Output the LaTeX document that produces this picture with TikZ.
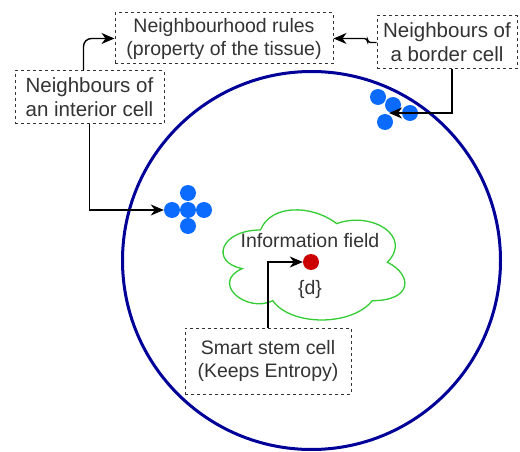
\documentclass[tikz,border=0pt]{standalone}
\usepackage{fontspec}
\setmainfont{Liberation Sans}
\usepackage{xcolor}
\usetikzlibrary{arrows.meta,positioning}
\definecolor{ink}{HTML}{333333}
\definecolor{rim}{HTML}{000099}
\definecolor{cellblue}{HTML}{0B6BFF}
\definecolor{stemred}{HTML}{CC0000}
\definecolor{fieldgreen}{HTML}{33CC33}

\begin{document}
\begin{tikzpicture}[x=1pt,y=-1pt,
  box/.style={draw=ink,dashed,line width=1pt,fill=white,inner sep=2pt,
              align=center,text=ink,font=\fontsize{19.5}{23}\selectfont},
  arr/.style={-{Stealth[length=13pt,width=11pt,inset=4pt]},draw=black,line width=1.4pt},
  cell/.style={circle,fill=cellblue,minimum size=16pt,inner sep=0pt},
  lbl/.style={text=ink,font=\fontsize{19.5}{23}\selectfont}
]
\useasboundingbox (0,0) rectangle (520,452);
% tissue
\draw[rim,line width=3pt] (311.5,260.5) circle[radius=189];
% information field
\draw[fieldgreen,line width=1.3pt] (260.5,230.0)
  .. controls (220.0,230.0) and (209.8,262.2) .. (242.3,268.6)
  .. controls (209.8,282.7) and (246.3,313.6) .. (272.8,300.7)
  .. controls (291.0,326.4) and (351.9,326.4) .. (372.2,300.7)
  .. controls (412.8,300.7) and (412.8,275.0) .. (387.4,262.2)
  .. controls (412.8,236.5) and (372.2,210.8) .. (336.7,223.6)
  .. controls (311.3,204.3) and (270.7,204.3) .. (260.5,230.0) -- cycle;
\node[lbl] (info) at (310,241) {Information field};
\node[lbl] (dset) at (310,289) {\{d\}};
\node[circle,fill=stemred,minimum size=16pt,inner sep=0pt] (stemdot) at (311,262) {};
% interior cell and its neighbours
\node[cell] (ic) at (188,210) {};
\node[cell] (icn) at (188,193) {};
\node[cell] (ics) at (188,226) {};
\node[cell] (icw) at (172,210) {};
\node[cell] (ice) at (204,210) {};
% border cell and its neighbours
\node[cell] (bc1) at (378,97) {};
\node[cell] (bc2) at (393,105) {};
\node[cell] (bc3) at (410,113) {};
\node[cell] (bc4) at (385,122) {};
\coordinate (btip) at (389,113);
% boxes
\node[box,minimum width=218pt,minimum height=51pt] (rules) at (224,38.5)
  {Neighbourhood rules\\(property of the tissue)};
\node[box,minimum width=140pt,minimum height=53pt,font=\fontsize{20.5}{24}\selectfont]
  (nbor) at (447,42.5) {Neighbours of\\a border cell};
\node[box,minimum width=149pt,minimum height=53pt,font=\fontsize{20.5}{24}\selectfont]
  (nint) at (89.5,97.5) {Neighbours of\\an interior cell};
\node[box,minimum width=166pt,minimum height=66pt] (stem) at (268,361)
  {Smart stem cell\\(Keeps Entropy)};
% connectors
\draw[arr,rounded corners=8pt] ([xshift=-6pt]nint.north) |- (rules.west);
\draw[arr,rounded corners=3pt] (nbor.west) -- ++(-9,0) |- (rules.east);
\draw[arr] ([xshift=5pt]nbor.south) |- (btip);
\draw[arr] (nint.south) |- (icw.west);
\draw[arr] (stem.north) |- (stemdot.west);
\end{tikzpicture}
\end{document}
